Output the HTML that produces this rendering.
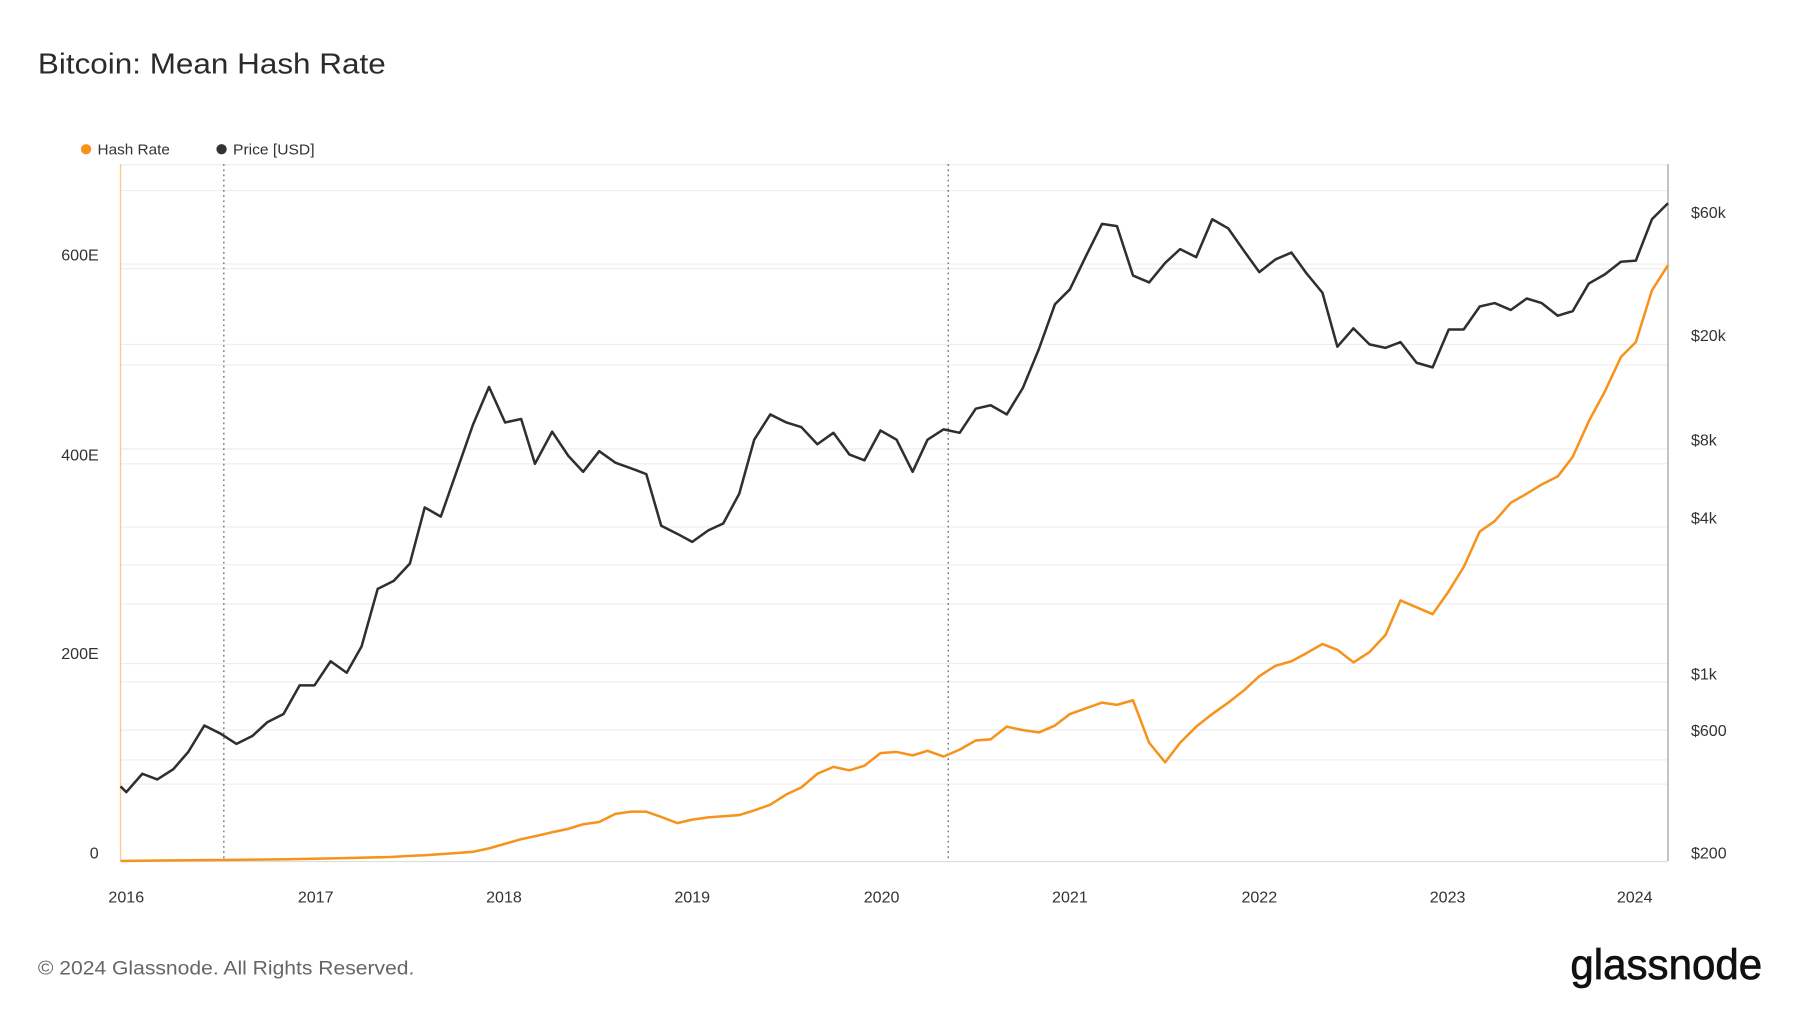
<!DOCTYPE html>
<html><head><meta charset="utf-8"><style>
html,body{margin:0;padding:0;background:#fff;}
svg{display:block;font-family:"Liberation Sans",sans-serif;}
</style></head><body>
<svg width="1800" height="1013" viewBox="0 0 1568 882.4" xmlns="http://www.w3.org/2000/svg">
<rect width="1568" height="882.4" fill="#fff"/>
<text x="33" y="64" font-size="25" fill="#2b2b2b" textLength="303" lengthAdjust="spacingAndGlyphs">Bitcoin: Mean Hash Rate</text>
<circle cx="75" cy="130" r="4.5" fill="#f7931a"/>
<text x="85" y="134.5" font-size="13" fill="#333" textLength="63" lengthAdjust="spacingAndGlyphs">Hash Rate</text>
<circle cx="193" cy="130" r="4.5" fill="#333"/>
<text x="203" y="134.5" font-size="13" fill="#333" textLength="71" lengthAdjust="spacingAndGlyphs">Price [USD]</text>
<g stroke="#eeeeee" stroke-width="1">
<line x1="105" y1="143.5" x2="1453" y2="143.5"/>
<line x1="105" y1="166" x2="1453" y2="166"/>
<line x1="105" y1="230" x2="1453" y2="230"/>
<line x1="105" y1="234" x2="1453" y2="234"/>
<line x1="105" y1="300" x2="1453" y2="300"/>
<line x1="105" y1="318" x2="1453" y2="318"/>
<line x1="105" y1="391" x2="1453" y2="391"/>
<line x1="105" y1="404" x2="1453" y2="404"/>
<line x1="105" y1="459" x2="1453" y2="459"/>
<line x1="105" y1="492" x2="1453" y2="492"/>
<line x1="105" y1="526" x2="1453" y2="526"/>
<line x1="105" y1="578" x2="1453" y2="578"/>
<line x1="105" y1="594" x2="1453" y2="594"/>
<line x1="105" y1="636" x2="1453" y2="636"/>
<line x1="105" y1="662" x2="1453" y2="662"/>
<line x1="105" y1="683" x2="1453" y2="683"/>
</g>
<line x1="105" y1="750.5" x2="1453" y2="750.5" stroke="#dddddd"/>
<line x1="105" y1="143" x2="105" y2="750" stroke="#fbc98c" stroke-width="1.2"/>
<line x1="1453" y1="143" x2="1453" y2="750" stroke="#aaaaaa" stroke-width="1.2"/>
<line x1="195" y1="143" x2="195" y2="750" stroke="#555" stroke-dasharray="1.5,3"/>
<line x1="826" y1="143" x2="826" y2="750" stroke="#555" stroke-dasharray="1.5,3"/>
<g font-size="14" fill="#333" text-anchor="end">
<text x="86" y="227">600E</text><text x="86" y="401">400E</text><text x="86" y="574">200E</text><text x="86" y="748">0</text>
</g>
<g font-size="14" fill="#333">
<text x="1473" y="190">$60k</text><text x="1473" y="297">$20k</text><text x="1473" y="388">$8k</text><text x="1473" y="456">$4k</text><text x="1473" y="592">$1k</text><text x="1473" y="641">$600</text><text x="1473" y="748">$200</text>
</g>
<g font-size="14" fill="#333" text-anchor="middle">
<text x="110" y="786">2016</text><text x="275" y="786">2017</text><text x="439" y="786">2018</text><text x="603" y="786">2019</text><text x="768" y="786">2020</text><text x="932" y="786">2021</text><text x="1097" y="786">2022</text><text x="1261" y="786">2023</text><text x="1424" y="786">2024</text>
</g>
<polyline fill="none" stroke="#f7931a" stroke-width="2.2" stroke-linejoin="round" points="105,750 150,749.5 200,749 250,748.5 300,747.5 340,746.5 357,745.5 370,745 384,744 398,743 412,742 426,739 440,735 454,731 468,728 481,725 495,722 508,718 522,716 536,709 550,707 563,707 577,712 590,717 603,714 617,712 630,711 644,710 657,706 671,701 685,692 698,686 712,674 726,668 740,671 753,667 767,656 781,655 795,658 808,654 822,659 836,653 850,645 863,644 877,633 891,636 905,638 919,632 932,622 946,617 960,612 973,614 987,610 1001,647 1015,664 1028,647 1042,633 1056,622 1070,612 1084,601 1097,589 1111,580 1125,576 1138,569 1152,561 1165,566 1179,577 1193,568 1207,553 1220,523 1234,529 1248,535 1262,515 1275,494 1289,463 1302,454 1316,438 1330,430 1343,422 1357,415 1370,398 1384,367 1398,341 1412,311 1425,298 1439,253 1453,231"/>
<polyline fill="none" stroke="#2f2f2f" stroke-width="2.2" stroke-linejoin="round" points="105,685 110,690 124,674 137,679 151,670 164,655 178,632 192,639 206,648 220,641 233,629 247,622 261,597 274,597 288,576 302,586 315,563 329,513 343,506 357,491 370,442 384,450 398,410 412,370 426,337 440,368 454,365 466,404 481,376 495,397 508,411 522,393 536,403 550,408 563,413 576,458 590,465 603,472 617,462 630,456 644,430 657,383 671,361 685,368 698,372 712,387 726,377 740,396 753,401 767,375 781,383 795,411 808,383 822,374 836,377 850,356 863,353 877,361 891,338 905,304 919,265 932,252 946,223 960,195 973,197 987,240 1001,246 1015,229 1028,217 1042,224 1056,191 1070,199 1084,219 1097,237 1111,226 1125,220 1138,238 1152,255 1165,302 1179,286 1193,300 1207,303 1220,298 1234,316 1248,320 1262,287 1275,287 1289,267 1302,264 1316,270 1330,260 1343,264 1357,275 1370,271 1384,247 1398,239 1412,228 1425,227 1439,191 1453,177"/>
<text x="33" y="849" font-size="17" fill="#666" textLength="328" lengthAdjust="spacingAndGlyphs">© 2024 Glassnode. All Rights Reserved.</text>
<text x="1368" y="853" font-size="37" fill="#111" stroke="#111" stroke-width="0.6" textLength="167" lengthAdjust="spacingAndGlyphs">glassnode</text>
</svg>
</body></html>
